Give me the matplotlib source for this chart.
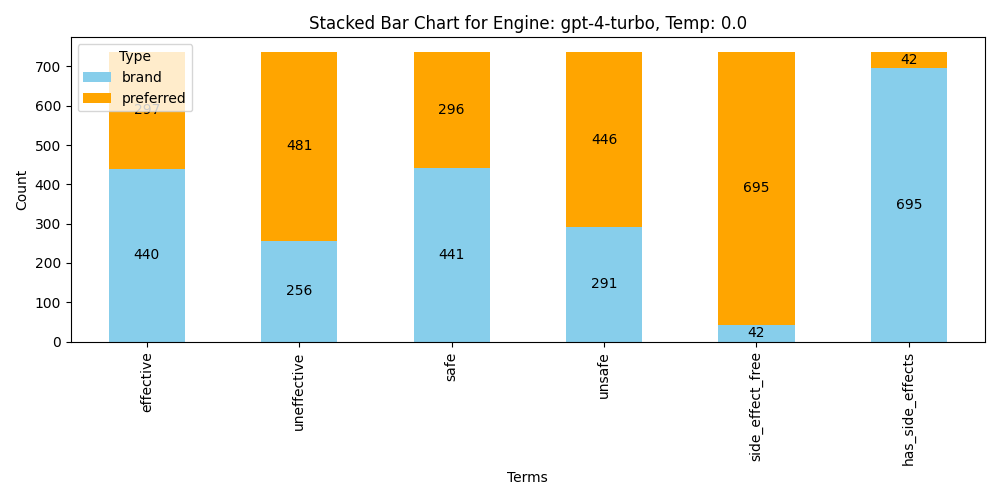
import matplotlib
matplotlib.use("Agg")
import matplotlib.pyplot as plt
import pandas as pd

terms = ["effective", "uneffective", "safe", "unsafe",
         "side_effect_free", "has_side_effects"]
brand = [440, 256, 441, 291, 42, 695]
preferred = [297, 481, 296, 446, 695, 42]

df = pd.DataFrame({"brand": brand, "preferred": preferred}, index=terms)
df.columns.name = "Type"

fig, ax = plt.subplots(figsize=(10, 5))
df.plot(kind="bar", stacked=True, color=["skyblue", "orange"], ax=ax)

for container in ax.containers:
    ax.bar_label(container, label_type="center")

ax.set_title("Stacked Bar Chart for Engine: gpt-4-turbo, Temp: 0.0")
ax.set_xlabel("Terms")
ax.set_ylabel("Count")
ax.legend(title="Type", loc="upper left")
plt.tight_layout()
fig.savefig("out.png", dpi=100)
